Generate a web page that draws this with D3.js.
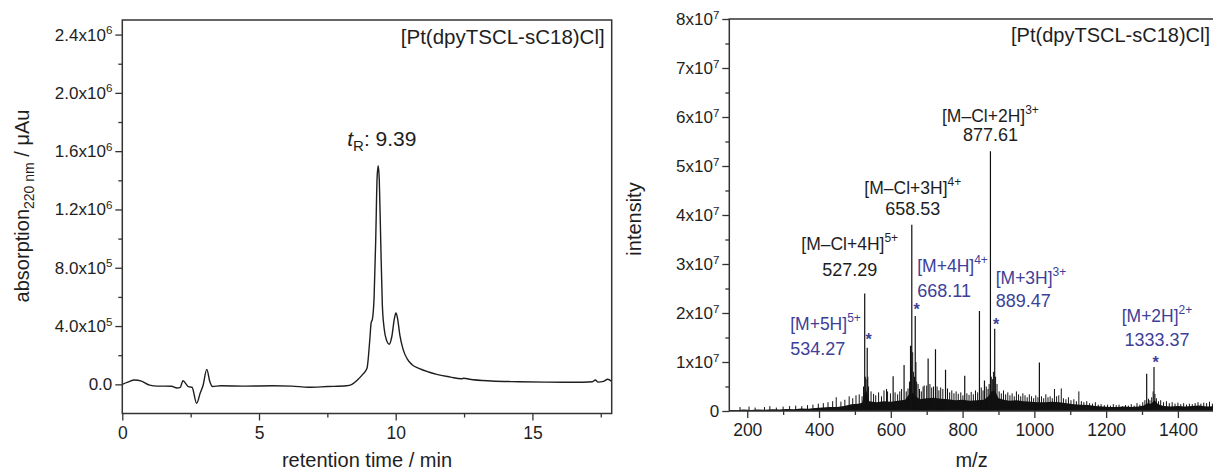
<!DOCTYPE html>
<html><head><meta charset="utf-8">
<script src="https://cdn.jsdelivr.net/npm/d3@7"></script>
<style>body{margin:0;background:#fff;} svg{display:block;}</style>
</head><body><svg id="c" width="1213" height="472"></svg>
<script>
// ---------------- DATA ----------------
// HPLC chromatogram: [retention time (min), absorption (x1000 µAu)]
const chrom = [[0,0],[0.2,15],[0.45,30],[0.7,22],[1.0,-5],[1.3,-12],[1.8,-13],[2.0,-25],[2.12,-20],[2.22,25],
 [2.32,5],[2.42,-16],[2.55,-20],[2.72,-130],[2.85,-60],[2.95,-10],[3.09,103],[3.2,20],[3.3,-15],[3.6,-10],
 [4.5,-12],[5.5,-10],[6.2,-12],[6.8,-20],[7.5,-15],[8.2,-10],[8.4,0],[8.6,30],[8.8,70],[8.95,110],
 [9.05,300],[9.1,420],[9.15,450],[9.21,600],[9.27,1000],[9.32,1420],[9.36,1500],[9.40,1400],[9.45,1000],[9.51,550],
 [9.58,380],[9.67,300],[9.76,275],[9.86,330],[9.95,450],[10.01,490],[10.07,450],[10.15,340],[10.27,240],[10.42,175],
 [10.6,135],[10.85,110],[11.2,85],[11.5,68],[12.0,50],[12.4,38],[12.5,42],[12.7,35],[13.5,23],[14.5,18],
 [15.5,15],[16.5,14],[17.2,18],[17.3,30],[17.4,15],[17.6,20],[17.75,35],[17.9,20]];
const leftXTicks = [0,5,10,15];
const leftXMinor = [2.5,7.5,12.5,17.5];
const leftYTicks = [0,4e5,8e5,1.2e6,1.6e6,2.0e6,2.4e6];
const leftYMant  = ["0.0","4.0x10","8.0x10","1.2x10","1.6x10","2.0x10","2.4x10"];
const leftYExp   = ["","5","5","6","6","6","6"];
const leftYMinor = [2e5,6e5,1.0e6,1.4e6,1.8e6,2.2e6];

// Mass spectrum (intensity in units of 1e6)
const mainPeaks = [[527.3,24],[534.3,12.9],[606.5,7.1],[637,9.4],[655,13.3],[658.5,38],[668.1,19.4],[704,10.7],
 [724.5,12.6],[752.5,8.4],[806,7.2],[847,20.4],[861,6.2],[877.6,53],[889.5,16.8],[1014,9.9],[1313,7.6],[1333.4,9.0]];
const grass = [[180,0.8],[205,0.9],[222,0.7],[248,0.8],[263,1.0],[281,0.7],[300,0.9],[318,1.0],[335,1.1],[352,1.0],
 [368,1.2],[383,1.3],[398,1.5],[412,1.6],[425,1.8],[438,2.0],[448,2.8],[461,1.9],[472,2.3],[484,3.0],[494,2.6],
 [503,3.2],[512,3.4],[520,3.0],[524,5.0],[529,7.0],[531,6.5],[536,7.0],[538,5.0],[545,4.0],[552,3.5],[558,3.2],
 [566,3.8],[574,3.0],[581,4.2],[588,4.5],[591,4.0],[599,3.6],[612,3.8],[619,3.4],[625,4.0],[630,4.5],[643,4.0],
 [648,4.6],[652,6.0],[657,9.0],[661,12.0],[663,8.0],[666,7.0],[670,10.0],[672,6.0],[676,5.5],[680,4.5],[685,4.0],
 [690,5.0],[693,5.2],[700,5.2],[709,5.5],[714,4.8],[719,5.0],[729,5.0],[734,4.2],[739,4.8],[745,4.5],[758,4.6],
 [764,3.8],[770,4.2],[776,3.6],[782,4.0],[788,3.5],[795,3.8],[801,3.2],[812,3.6],[818,3.3],[824,3.9],[830,3.4],
 [836,4.2],[842,3.8],[852,4.8],[857,4.2],[866,5.0],[871,4.5],[874,5.5],[880,7.0],[883,6.5],[886,8.0],[892,7.0],
 [896,5.5],[902,4.0],[908,3.6],[914,4.2],[920,3.4],[926,3.8],[932,3.2],[938,3.6],[944,3.0],[950,4.0],[956,3.4],
 [962,3.0],[968,3.6],[974,3.2],[980,2.8],[986,3.4],[992,3.0],[998,2.6],[1004,3.2],[1010,2.8],[1020,3.0],[1026,2.6],
 [1032,3.4],[1038,2.8],[1044,3.0],[1050,2.6],[1056,4.5],[1062,3.0],[1068,3.2],[1075,4.6],[1081,2.6],[1088,2.4],
 [1095,2.8],[1102,2.2],[1110,2.4],[1117,2.0],[1124,4.0],[1131,2.0],[1138,1.8],[1146,2.0],[1154,1.6],[1162,1.5],
 [1170,1.8],[1178,1.3],[1186,1.4],[1195,1.2],[1204,1.3],[1212,1.1],[1220,1.4],[1228,1.2],[1236,1.3],[1245,1.0],
 [1254,1.2],[1262,1.1],[1270,1.4],[1278,1.1],[1286,1.6],[1294,1.3],[1302,1.8],[1308,2.2],[1318,2.5],[1322,2.2],
 [1327,2.8],[1331,4.0],[1336,3.5],[1340,2.6],[1346,2.0],[1352,2.2],[1360,1.8],[1368,2.0],[1376,1.6],[1384,1.8],
 [1392,1.5],[1400,1.7],[1408,1.4],[1416,1.6],[1424,1.3],[1432,1.5],[1440,1.4],[1448,1.6],[1456,1.8],[1464,1.5],
 [1472,1.7],[1480,1.6],[1488,1.9],[1496,1.5]];
const floorBand = [[150,0.2],[170,0.15],[190,0.3],[210,0.2],[230,0.3],[250,0.25],[270,0.35],[290,0.3],[310,0.4],
 [330,0.35],[350,0.5],[370,0.45],[390,0.6],[410,0.7],[430,0.8],[450,0.8],[470,1.0],[490,1.4],[510,1.5],[520,1.7],
 [525,3.0],[530,4.5],[540,2.0],[560,1.8],[580,2.0],[600,1.9],[620,2.1],[640,2.3],[652,3.5],[660,3.8],[670,3.0],
 [680,2.4],[700,2.6],[720,2.7],[740,2.5],[760,2.4],[780,2.2],[800,2.3],[820,2.1],[840,2.2],[860,2.3],[872,3.0],
 [880,4.0],[890,4.2],[900,2.6],[915,2.3],[930,2.1],[950,2.2],[970,2.0],[990,1.9],[1010,1.8],[1030,1.8],[1050,1.9],
 [1070,1.8],[1090,1.6],[1110,1.4],[1130,1.3],[1150,1.2],[1170,1.0],[1190,0.9],[1210,0.8],[1230,0.8],[1250,0.9],
 [1270,0.8],[1290,0.9],[1305,1.1],[1315,1.6],[1325,1.5],[1335,2.2],[1345,1.4],[1360,1.0],[1380,0.9],[1400,1.0],
 [1420,0.9],[1440,1.0],[1460,1.1],[1480,0.9],[1500,1.0]];
const rightXTicks = [200,400,600,800,1000,1200,1400];
const rightXMinor = [300,500,700,900,1100,1300,1500];
const rightYTicks = [0,10,20,30,40,50,60,70,80];
const rightYMant  = ["0","1x10","2x10","3x10","4x10","5x10","6x10","7x10","8x10"];
const rightYExp   = ["","7","7","7","7","7","7","7","7"];
const rightYMinor = [5,15,25,35,45,55,65,75];

// Ion annotations
const ionName   = ["[M\u2013Cl+2H]","[M\u2013Cl+3H]","[M\u2013Cl+4H]","[M+5H]","[M+4H]","[M+3H]","[M+2H]"];
const ionCharge = ["3+","4+","5+","5+","4+","3+","2+"];
const ionValue  = ["877.61","658.53","527.29","534.27","668.11","889.47","1333.37"];
const ionPeakMz = [877.6,658.5,527.3,534.3,668.1,889.5,1333.4];
const ionPeakI  = [53,38,24,12.9,19.4,16.8,9.0];
const ionFound  = [false,false,false,true,true,true,true];   // blue = starred species

const compoundName = "[Pt(dpyTSCL-sC18)Cl]";

// ---------------- LAYOUT ----------------
const FONT = "'Liberation Sans', Arial, Helvetica, sans-serif";
const BLUE = "#3d3f98", INK = "#1e1e1e", AX = "#333";
const svg = d3.select("#c").attr("font-family", FONT);

// ---- left panel ----
const xL = d3.scaleLinear().domain([0,17.9]).range([122.3,611.7]);
const yL = d3.scaleLinear().domain([-2e5,2.5e6]).range([413.5,20]);
const gL = svg.append("g");

gL.append("path").datum(chrom)
  .attr("d", d3.line().x(d=>xL(d[0])).y(d=>yL(d[1]*1e3)).curve(d3.curveMonotoneX))
  .attr("fill","none").attr("stroke",INK).attr("stroke-width",1.4);

function styleAxis(g, fs){
  g.select(".domain").remove();
  g.selectAll(".tick line").attr("stroke",AX).attr("stroke-width",1.3);
  g.selectAll(".tick text").attr("fill",INK).attr("font-size",fs).attr("font-family",FONT);
}
function supLabels(g, ticks, mant, exp){
  g.selectAll(".tick text").each(function(d){
    const i = ticks.indexOf(d); const t = d3.select(this);
    t.text(mant[i]);
    if (exp[i]) t.append("tspan").attr("dy","-0.55em").attr("font-size","0.68em").text(exp[i]);
  });
}
// left y axis
let g = gL.append("g").attr("transform",`translate(${xL.range()[0]},0)`)
  .call(d3.axisLeft(yL).tickValues(leftYTicks).tickSize(7).tickPadding(3));
styleAxis(g,17); supLabels(g,leftYTicks,leftYMant,leftYExp);
g = gL.append("g").attr("transform",`translate(${xL.range()[0]},0)`)
  .call(d3.axisLeft(yL).tickValues(leftYMinor).tickSize(4).tickFormat(""));
styleAxis(g,17);
// left x axis
g = gL.append("g").attr("transform",`translate(0,${yL.range()[0]})`)
  .call(d3.axisBottom(xL).tickValues(leftXTicks).tickSize(7).tickPadding(6).tickFormat(d3.format("d")));
styleAxis(g,17.5);
g = gL.append("g").attr("transform",`translate(0,${yL.range()[0]})`)
  .call(d3.axisBottom(xL).tickValues(leftXMinor).tickSize(4).tickFormat(""));
styleAxis(g,17.5);
// frame
gL.append("rect").attr("x",xL.range()[0]).attr("y",yL.range()[1])
  .attr("width",xL.range()[1]-xL.range()[0]).attr("height",yL.range()[0]-yL.range()[1])
  .attr("fill","none").attr("stroke",AX).attr("stroke-width",1.5);
// titles
const yt = gL.append("text").attr("transform","translate(29,206) rotate(-90)")
  .attr("text-anchor","middle").attr("font-size",20).attr("fill",INK);
yt.append("tspan").text("absorption");
yt.append("tspan").attr("font-size",14).attr("dy",5).text("220 nm");
yt.append("tspan").attr("dy",-5).text(" / \u03bcAu");
gL.append("text").attr("x",(xL.range()[0]+xL.range()[1])/2).attr("y",467)
  .attr("text-anchor","middle").attr("font-size",20).attr("fill",INK).text("retention time / min");
gL.append("text").attr("x",xL.range()[1]-7).attr("y",44).attr("text-anchor","end")
  .attr("font-size",20.5).attr("fill",INK).text(compoundName);
const tr = gL.append("text").attr("x",xL(9.36)-31).attr("y",146).attr("font-size",21).attr("fill",INK);
tr.append("tspan").attr("font-style","italic").text("t");
tr.append("tspan").attr("font-size",15).attr("dy",5).text("R");
tr.append("tspan").attr("dy",-5).text(": 9.39");

// ---- right panel ----
const xR = d3.scaleLinear().domain([150,1500]).range([729.3,1213.8]);
const yR = d3.scaleLinear().domain([0,80]).range([411,19]);
const gR = svg.append("g");

gR.append("path").datum(floorBand)
  .attr("d", d3.area().x(d=>xR(d[0])).y0(yR(0)).y1(d=>yR(d[1])))
  .attr("fill","#111");
gR.append("path")
  .attr("d", grass.map(d=>`M${xR(d[0])},${yR(0)}V${yR(d[1])}`).join(""))
  .attr("stroke","#111").attr("stroke-width",1).attr("fill","none");
gR.append("path")
  .attr("d", mainPeaks.map(d=>`M${xR(d[0])},${yR(0)}V${yR(d[1])}`).join(""))
  .attr("stroke","#111").attr("stroke-width",1.2).attr("fill","none");

g = gR.append("g").attr("transform",`translate(${xR.range()[0]},0)`)
  .call(d3.axisLeft(yR).tickValues(rightYTicks).tickSize(7).tickPadding(3));
styleAxis(g,17); supLabels(g,rightYTicks,rightYMant,rightYExp);
g = gR.append("g").attr("transform",`translate(${xR.range()[0]},0)`)
  .call(d3.axisLeft(yR).tickValues(rightYMinor).tickSize(4).tickFormat(""));
styleAxis(g,17);
g = gR.append("g").attr("transform",`translate(0,${yR.range()[0]})`)
  .call(d3.axisBottom(xR).tickValues(rightXTicks).tickSize(7).tickPadding(6).tickFormat(d3.format("d")));
styleAxis(g,17.5);
g = gR.append("g").attr("transform",`translate(0,${yR.range()[0]})`)
  .call(d3.axisBottom(xR).tickValues(rightXMinor).tickSize(4).tickFormat(""));
styleAxis(g,17.5);
// frame (left, top, bottom; right edge lies at page border)
gR.append("path")
  .attr("d",`M${xR.range()[1]},${yR.range()[1]}H${xR.range()[0]}V${yR.range()[0]}H${xR.range()[1]}`)
  .attr("fill","none").attr("stroke",AX).attr("stroke-width",1.5);
gR.append("text").attr("transform",`translate(641,219) rotate(-90)`).attr("text-anchor","middle")
  .attr("font-size",20).attr("fill",INK).text("intensity");
gR.append("text").attr("x",(xR.range()[0]+xR.range()[1])/2).attr("y",467)
  .attr("text-anchor","middle").attr("font-size",20).attr("fill",INK).text("m/z");
gR.append("text").attr("x",1210).attr("y",42).attr("text-anchor","end")
  .attr("font-size",20).attr("fill",INK).text(compoundName);

// ion labels: layout offsets relative to each peak top [dx, anchor, dy line1, dy line2]
const ionLayout = [[0,"middle",-29,-10],[1,"middle",-31,-10],[-15,"middle",-43,-17],
  [-77,"start",-18,7.5],[2,"start",-44,-19],[1,"start",-45,-22],[3,"middle",-45,-21]];
ionName.forEach((nm,i)=>{
  const px = xR(ionPeakMz[i]), top = yR(ionPeakI[i]);
  const [dx,anc,d1,d2] = ionLayout[i];
  const col = ionFound[i] ? BLUE : INK;
  const t1 = gR.append("text").attr("x",px+dx).attr("y",top+d1).attr("text-anchor",anc)
    .attr("font-size",17.5).attr("fill",col);
  t1.append("tspan").text(nm);
  t1.append("tspan").attr("dy",-8).attr("font-size",12).text(ionCharge[i]);
  gR.append("text").attr("x",px+dx).attr("y",top+d2).attr("text-anchor",anc)
    .attr("font-size",18).attr("fill",col).text(ionValue[i]);
  if (ionFound[i]) {
    gR.append("text").attr("x",px+1.5).attr("y",top+(i===3?-3:i===4?-1:1)).attr("text-anchor","middle")
      .attr("font-size",16).attr("font-weight","bold").attr("fill",BLUE).text("*");
  }
});
</script>
</body></html>
